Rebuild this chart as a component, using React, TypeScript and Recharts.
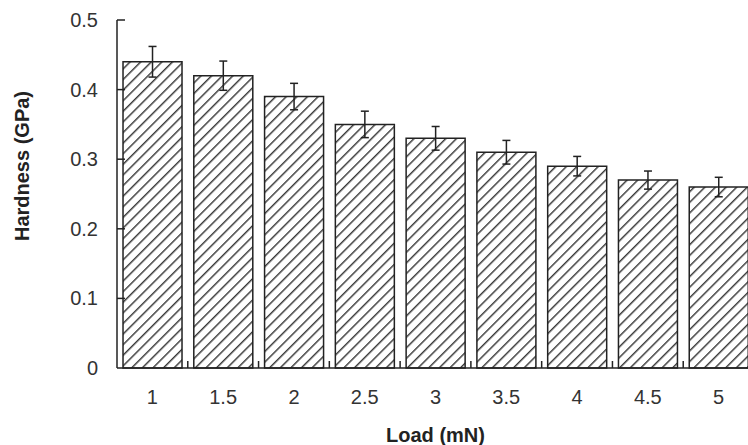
import { BarChart, Bar, XAxis, YAxis, ErrorBar, Label } from 'recharts';

const loads = ['1', '1.5', '2', '2.5', '3', '3.5', '4', '4.5', '5'];
const hardness = [0.44, 0.42, 0.39, 0.35, 0.33, 0.31, 0.29, 0.27, 0.26];
const hardnessErr = [0.022, 0.021, 0.019, 0.019, 0.017, 0.017, 0.014, 0.013, 0.014];
const yTicks = [0, 0.1, 0.2, 0.3, 0.4, 0.5];

const data = loads.map((load, i) => ({
  load,
  hardness: hardness[i],
  err: hardnessErr[i],
}));

const font = '"Liberation Sans", Arial, sans-serif';
const ink = '#222';
const TICK_GAP = 19; // tickSize + tickMargin of the y axis
const X_GAP = 22; // tickSize + tickMargin of the x axis

const YTitle = (props: any) => {
  const { viewBox } = props;
  const x = viewBox.x + 22;
  const y = 166;
  return (
    <text
      x={x}
      y={y}
      transform={`rotate(-90, ${x}, ${y})`}
      textAnchor="middle"
      dominantBaseline="central"
      fontFamily={font}
      fontWeight="bold"
      fontSize={20}
      fill={ink}
    >
      Hardness (GPa)
    </text>
  );
};

// y tick: label outside, short mark pointing into the plot
const YTick = (props: any) => {
  const { x, y, payload } = props;
  const ax = x + TICK_GAP;
  return (
    <g>
      {payload.value > 0 && <line x1={ax} y1={y} x2={ax + 8} y2={y} stroke={ink} strokeWidth={1.5} />}
      <text x={x} y={y} textAnchor="end" dominantBaseline="central" fontSize={20} fill="#333" fontFamily={font}>
        {payload.value}
      </text>
    </g>
  );
};

// x tick: label under the bar, small upward mark on the category boundary
const XTick = (props: any) => {
  const { x, y, payload, index, visibleTicksCount } = props;
  const ay = y - X_GAP;
  const bx = x + (payload.offset || 0);
  return (
    <g>
      {index < visibleTicksCount - 1 && (
        <line x1={bx} y1={ay} x2={bx} y2={ay - 7} stroke={ink} strokeWidth={1.5} />
      )}
      <text x={x} y={y} textAnchor="middle" dominantBaseline="hanging" fontSize={20} fill="#333" fontFamily={font}>
        {payload.value}
      </text>
    </g>
  );
};

export default function App() {
  return (
    <div
      style={{
        position: 'absolute',
        left: 0,
        top: 0,
        width: 748,
        height: 445,
        overflow: 'hidden',
        background: '#fff',
      }}
    >
      <BarChart
        width={760}
        height={445}
        data={data}
        margin={{ top: 20, right: 6, left: 0, bottom: 0 }}
        barCategoryGap="8.5%"
      >
        <defs>
          <pattern
            id="hatch"
            patternUnits="userSpaceOnUse"
            width={7.5}
            height={7.5}
            patternTransform="rotate(45)"
          >
            <rect width={7.5} height={7.5} fill="#fff" />
            <line x1={0.75} y1={0} x2={0.75} y2={7.5} stroke="#222" strokeWidth={1.3} />
          </pattern>
        </defs>
        <YAxis
          width={117}
          domain={[0, 0.5]}
          ticks={yTicks}
          tickLine={false}
          tickSize={8}
          tickMargin={11}
          axisLine={{ stroke: ink, strokeWidth: 1.5 }}
          tick={<YTick />}
        >
          <Label content={<YTitle />} />
        </YAxis>
        <XAxis
          dataKey="load"
          height={77}
          tickLine={false}
          tickSize={8}
          tickMargin={14}
          axisLine={{ stroke: ink, strokeWidth: 1.5 }}
          tick={<XTick />}
        >
          <Label
            value="Load (mN)"
            position="insideBottom"
            offset={3}
            style={{ fontSize: 20, fontWeight: 'bold', fill: ink, fontFamily: font }}
          />
        </XAxis>
        <Bar
          dataKey="hardness"
          fill="url(#hatch)"
          stroke={ink}
          strokeWidth={1.5}
          isAnimationActive={false}
        >
          <ErrorBar dataKey="err" width={4} stroke={ink} strokeWidth={1.5} />
        </Bar>
      </BarChart>
    </div>
  );
}
